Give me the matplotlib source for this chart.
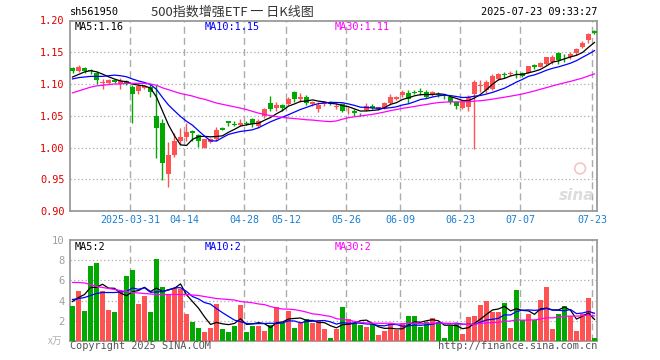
import matplotlib
matplotlib.use("Agg")
import matplotlib.pyplot as plt
import numpy as np
import pandas as pd

# ---------------- data ----------------
tick_labels = ["2025-03-31", "04-14", "04-28", "05-12", "05-26", "06-09", "06-23", "07-07", "07-23"]
tick_index = [10, 19, 29, 36, 46, 55, 65, 75, 87]

opens = [1.125, 1.121, 1.125, 1.122, 1.117, 1.102, 1.102, 1.107, 1.100, 1.105,
         1.096, 1.089, 1.094, 1.095, 1.049, 1.038, 0.959, 0.988, 1.011, 1.017,
         1.026, 1.019, 1.000, 1.009, 1.014, 1.030, 1.041, 1.037, 1.036, 1.039,
         1.045, 1.034, 1.050, 1.070, 1.062, 1.067, 1.069, 1.087, 1.077, 1.079,
         1.069, 1.061, 1.069, 1.072, 1.064, 1.068, 1.057, 1.057, 1.053, 1.059,
         1.066, 1.061, 1.062, 1.070, 1.077, 1.083, 1.086, 1.087, 1.089, 1.088,
         1.083, 1.085, 1.082, 1.080, 1.072, 1.062, 1.063, 1.085, 1.097, 1.091,
         1.092, 1.108, 1.115, 1.116, 1.116, 1.117, 1.118, 1.130, 1.127, 1.132,
         1.134, 1.149, 1.143, 1.143, 1.149, 1.158, 1.170, 1.184]
highs = [1.127, 1.130, 1.127, 1.124, 1.121, 1.108, 1.108, 1.108, 1.110, 1.107,
         1.098, 1.100, 1.099, 1.100, 1.099, 1.045, 1.009, 1.023, 1.030, 1.038,
         1.027, 1.022, 1.014, 1.015, 1.032, 1.032, 1.042, 1.041, 1.045, 1.041,
         1.047, 1.045, 1.062, 1.081, 1.072, 1.069, 1.079, 1.089, 1.086, 1.082,
         1.074, 1.071, 1.074, 1.074, 1.070, 1.070, 1.063, 1.060, 1.055, 1.070,
         1.068, 1.064, 1.072, 1.084, 1.081, 1.090, 1.091, 1.090, 1.093, 1.090,
         1.089, 1.087, 1.085, 1.083, 1.074, 1.074, 1.083, 1.106, 1.106, 1.106,
         1.115, 1.117, 1.119, 1.121, 1.122, 1.119, 1.129, 1.131, 1.135, 1.143,
         1.145, 1.150, 1.148, 1.150, 1.157, 1.168, 1.181, 1.185]
lows = [1.118, 1.119, 1.117, 1.116, 1.100, 1.092, 1.100, 1.101, 1.092, 1.098,
        1.039, 1.085, 1.092, 1.080, 0.984, 0.949, 0.938, 0.985, 1.004, 1.011,
        1.011, 1.001, 0.999, 1.007, 1.011, 1.027, 1.034, 1.034, 1.034, 1.035,
        1.032, 1.031, 1.047, 1.057, 1.058, 1.058, 1.067, 1.071, 1.071, 1.067,
        1.066, 1.056, 1.066, 1.067, 1.060, 1.056, 1.053, 1.049, 1.050, 1.057,
        1.060, 1.059, 1.060, 1.067, 1.075, 1.080, 1.070, 1.084, 1.082, 1.078,
        1.081, 1.080, 1.076, 1.068, 1.060, 1.060, 1.058, 0.998, 1.088, 1.086,
        1.090, 1.106, 1.110, 1.112, 1.110, 1.111, 1.117, 1.124, 1.126, 1.130,
        1.132, 1.131, 1.134, 1.140, 1.146, 1.156, 1.164, 1.179]
closes = [1.121, 1.127, 1.121, 1.120, 1.107, 1.103, 1.106, 1.103, 1.105, 1.101,
          1.085, 1.097, 1.097, 1.088, 1.030, 0.975, 0.988, 1.011, 1.017, 1.025,
          1.023, 1.010, 1.013, 1.013, 1.028, 1.028, 1.038, 1.036, 1.039, 1.037,
          1.037, 1.042, 1.060, 1.060, 1.067, 1.062, 1.077, 1.077, 1.080, 1.070,
          1.071, 1.067, 1.071, 1.069, 1.065, 1.058, 1.058, 1.054, 1.052, 1.066,
          1.062, 1.063, 1.070, 1.079, 1.079, 1.087, 1.076, 1.086, 1.088, 1.080,
          1.087, 1.082, 1.081, 1.071, 1.065, 1.071, 1.080, 1.103, 1.099, 1.103,
          1.113, 1.115, 1.114, 1.118, 1.115, 1.113, 1.128, 1.126, 1.133, 1.142,
          1.143, 1.138, 1.142, 1.148, 1.155, 1.165, 1.179, 1.180]
volumes = [3.5, 5.0, 3.0, 7.4, 7.7, 5.0, 3.1, 2.9, 5.0, 6.4,
           7.0, 3.7, 4.5, 2.9, 8.1, 5.3, 4.6, 5.2, 5.1, 2.7,
           1.9, 1.3, 0.9, 1.3, 3.7, 1.2, 0.9, 1.5, 3.6, 0.9,
           1.5, 1.5, 1.0, 1.6, 3.4, 1.8, 3.0, 1.3, 1.8, 2.2,
           1.8, 2.0, 1.2, 0.25, 1.16, 3.4, 2.16, 1.73, 1.56, 1.40,
           1.66, 0.56, 0.96, 1.63, 1.06, 1.73, 2.49, 2.49, 1.40, 1.83,
           2.26, 1.89, 0.30, 1.46, 1.63, 0.70, 2.39, 2.49, 3.55, 3.99,
           2.89, 2.89, 3.79, 1.30, 5.05, 2.06, 2.66, 2.06, 4.05, 5.38,
           1.20, 2.66, 3.46, 2.49, 0.96, 2.62, 4.29, 0.23]

# moving-average values at the start of the window (read from the chart,
# they depend on days before the window)
ma5_head = [1.111, 1.115, 1.119, 1.121]
ma10_head = [1.108, 1.110, 1.111, 1.112, 1.112, 1.112, 1.113, 1.114, 1.113]
ma30_head = [1.086, 1.089, 1.092, 1.095, 1.097, 1.098, 1.099, 1.100, 1.100, 1.101,
             1.101, 1.101, 1.101, 1.100, 1.098, 1.094, 1.091, 1.088, 1.085, 1.083,
             1.081, 1.078, 1.076, 1.073, 1.070, 1.068, 1.066, 1.064, 1.062]
vma5_head = [3.9, 4.3, 4.6, 5.3]
vma10_head = [4.1, 4.2, 4.3, 4.5, 4.7, 4.8, 4.8, 4.8, 4.85]
vma30_head = [5.8, 5.8, 5.75, 5.6, 5.4, 5.3, 5.2, 5.1, 5.0, 4.9,
              4.8, 4.75, 4.7, 4.65, 4.6, 4.6, 4.6, 4.6, 4.6, 4.6,
              4.55, 4.5, 4.4, 4.3, 4.2, 4.15, 4.1, 4.05, 3.9]

price_ticks = [0.90, 0.95, 1.00, 1.05, 1.10, 1.15, 1.20]
vol_ticks = [2, 4, 6, 8, 10]

code = "sh561950"
title = "500指数增强ETF 一 日K线图"
stamp = "2025-07-23 09:33:27"
ma_labels = ["MA5:1.16", "MA10:1.15", "MA30:1.11"]
vma_labels = ["MA5:2", "MA10:2", "MA30:2"]

# ---------------- helpers ----------------
def moving(vals, n, head):
    s = pd.Series(vals, dtype=float).rolling(n).mean().to_numpy()
    s[:len(head)] = head
    return s

RED = "#ff5252"
GREEN = "#00a800"
GRID = "#ababab"
FRAME = "#9a9a9a"
MONO = "DejaVu Sans Mono"

W, H = 660, 360
fig = plt.figure(figsize=(6.6, 3.6), dpi=100)
fig.patch.set_facecolor("white")

def fx(x):
    return x / W

def fy(y):
    return 1 - y / H

L, R = 70, 597
ax = fig.add_axes([fx(L), fy(211), (R - L) / W, (211 - 20.5) / H])
axv = fig.add_axes([fx(L), fy(340.7), (R - L) / W, (340.7 - 240.3) / H])

n = len(closes)
x = np.arange(n)
o = np.array(opens); h = np.array(highs); lo = np.array(lows); c = np.array(closes)
up = c >= o
colors = [RED if u else GREEN for u in up]

xlim = (-0.4167, 87.417)
for a in (ax, axv):
    a.set_xlim(*xlim)
    for s in a.spines.values():
        s.set_color(FRAME)
        s.set_linewidth(1.3)
    a.tick_params(length=0)
    for t in tick_index:
        a.axvline(t - 0.4167, color=GRID, lw=1.0, ls=(0, (5, 3)), zorder=0)

# price panel
ax.set_ylim(0.90, 1.20)
for v in price_ticks[1:-1]:
    ax.axhline(v, color=GRID, lw=0.9, ls=(0, (1, 2)), zorder=0)
ax.vlines(x, lo, h, colors=colors, lw=1.0, zorder=2)
body = np.maximum(np.abs(c - o), 0.0009)
ax.bar(x, body, bottom=np.minimum(o, c), width=0.83, color=colors, lw=0, zorder=3)

ma5 = moving(closes, 5, ma5_head)
ma10 = moving(closes, 10, ma10_head)
ma30 = moving(closes, 30, ma30_head)
ax.plot(x, ma5, color="black", lw=0.9, zorder=4)
ax.plot(x, ma10, color="#0000ff", lw=0.9, zorder=4)
ax.plot(x, ma30, color="#ff00ff", lw=0.9, zorder=4)

ax.set_yticks(price_ticks)
ax.set_yticklabels([f"{v:.2f}" for v in price_ticks], color="#e00000",
                   fontfamily=MONO, fontsize=7.4)
ax.tick_params(axis="y", pad=4)
ax.set_xticks([t - 0.4167 for t in tick_index])
ax.set_xticklabels(tick_labels, color="#1a7fd0", fontfamily=MONO, fontsize=7.2)
ax.tick_params(axis="x", pad=3)

# sina watermark
ax.text(0.995, 0.04, "sina", transform=ax.transAxes, ha="right", va="bottom",
        fontsize=11, fontweight="bold", fontstyle="italic", color="#dcdcdc",
        fontfamily="DejaVu Sans", zorder=1)
ax.scatter([84.6], [0.967], s=60, facecolors="none", edgecolors="#f5c4c4", lw=1.2, zorder=1)

# volume panel
axv.set_ylim(0, 10)
for v in vol_ticks[:-1]:
    axv.axhline(v, color=GRID, lw=0.9, ls=(0, (1, 2)), zorder=0)
axv.bar(x, volumes, width=0.83, color=colors, lw=0, zorder=3)
axv.plot(x, moving(volumes, 5, vma5_head), color="black", lw=0.9, zorder=4)
axv.plot(x, moving(volumes, 10, vma10_head), color="#0000ff", lw=0.9, zorder=4)
axv.plot(x, moving(volumes, 30, vma30_head), color="#ff00ff", lw=0.9, zorder=4)
axv.set_yticks(vol_ticks)
axv.set_yticklabels([str(v) for v in vol_ticks], color="#a0a0a0",
                    fontfamily=MONO, fontsize=7.6)
axv.tick_params(axis="y", pad=4)
axv.set_xticks([])

# texts
fs = 7.4
fig.text(fx(70), fy(12), code, fontfamily=MONO, fontsize=fs, color="black", va="center", ha="left")
fig.text(fx(232), fy(12), title, fontfamily=["Noto Sans CJK SC", "DejaVu Sans"], fontsize=9.4,
         color="#333333", va="center", ha="center")
fig.text(fx(597), fy(12), stamp, fontfamily=MONO, fontsize=fs, color="black", va="center", ha="right")

for xx, lab, col in zip([75, 205, 335], ma_labels, ["black", "#0000ff", "#ff00ff"]):
    fig.text(fx(xx), fy(26.5), lab, fontfamily=MONO, fontsize=fs, color=col, va="center", ha="left")
for xx, lab, col in zip([75, 205, 335], vma_labels, ["black", "#0000ff", "#ff00ff"]):
    fig.text(fx(xx), fy(246.5), lab, fontfamily=MONO, fontsize=fs, color=col, va="center", ha="left")

fig.text(fx(62), fy(341), "x万", fontfamily=["Noto Sans CJK SC", "DejaVu Sans"], fontsize=7,
         color="#b0b0b0", va="center", ha="right")
fig.text(fx(70), fy(346), "Copyright 2025 SINA.COM", fontfamily=MONO, fontsize=fs,
         color="#555555", va="center", ha="left")
fig.text(fx(597), fy(346), "http://finance.sina.com.cn", fontfamily=MONO, fontsize=fs,
         color="#555555", va="center", ha="right")

fig.savefig("out.png", dpi=100, facecolor="white")
